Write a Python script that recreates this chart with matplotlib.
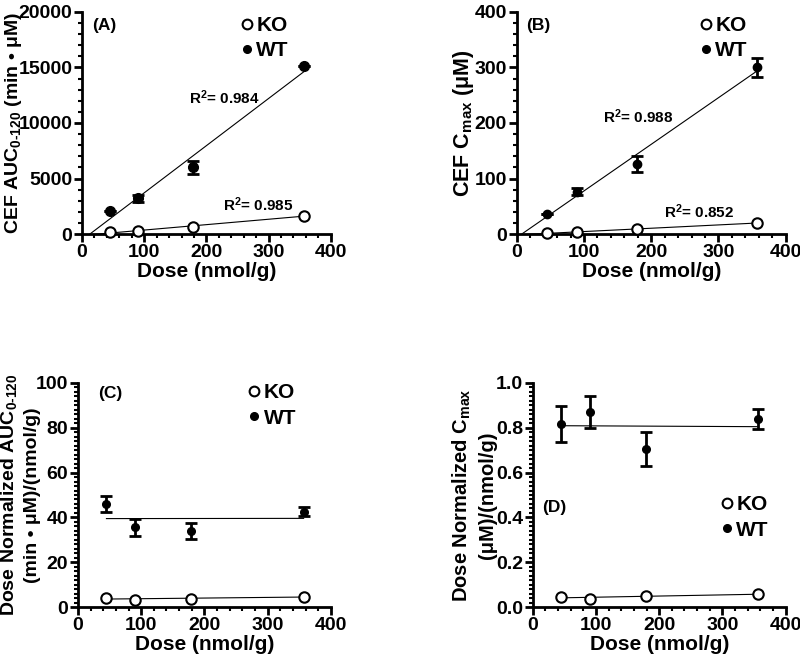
import numpy as np
import matplotlib
matplotlib.use("Agg")
import matplotlib.pyplot as plt
from matplotlib.ticker import MultipleLocator, FormatStrFormatter

plt.rcParams['font.family'] = ['Liberation Sans', 'DejaVu Sans']
plt.rcParams['font.weight'] = 'bold'
plt.rcParams['mathtext.fontset'] = 'custom'
plt.rcParams['mathtext.rm'] = 'Liberation Sans'
plt.rcParams['mathtext.bf'] = 'Liberation Sans:bold'
plt.rcParams['mathtext.default'] = 'rm'

# doses (nmol/g)
dose = [45, 90, 179, 357]

# (A) AUC 0-120 (min*uM)
auc_wt = [2050, 3200, 6000, 15100]
auc_wt_err = [0, 300, 600, 0]
auc_ko = [150, 300, 650, 1650]

# (B) Cmax (uM)
cmax_wt = [36, 76, 126, 300]
cmax_wt_err = [0, 6, 14, 17]
cmax_ko = [2, 3, 9, 20]

# (C) dose normalized AUC
nauc_wt = [46, 35.5, 34, 42.5]
nauc_wt_err = [3.5, 4, 3.5, 2]
nauc_ko = [4, 3.3, 3.7, 4.6]

# (D) dose normalized Cmax
ncmax_wt = [0.815, 0.87, 0.705, 0.84]
ncmax_wt_err = [0.08, 0.07, 0.075, 0.045]
ncmax_ko = [0.045, 0.037, 0.05, 0.057]

fig = plt.figure(figsize=(8, 6.57), dpi=100)
axA = fig.add_axes([0.1025, 0.6438, 0.311, 0.338])
axB = fig.add_axes([0.646, 0.6438, 0.336, 0.338])
axC = fig.add_axes([0.0975, 0.0761, 0.316, 0.341])
axD = fig.add_axes([0.666, 0.0761, 0.316, 0.341])


def style(ax, ymax, ymajor, yminor):
    ax.set_xlim(0, 400)
    ax.set_ylim(0, ymax)
    for s in ['top', 'right']:
        ax.spines[s].set_visible(False)
    for s in ['left', 'bottom']:
        ax.spines[s].set_linewidth(2)
    ax.xaxis.set_major_locator(MultipleLocator(100))
    ax.xaxis.set_minor_locator(MultipleLocator(20))
    ax.yaxis.set_major_locator(MultipleLocator(ymajor))
    ax.yaxis.set_minor_locator(MultipleLocator(yminor))
    ax.tick_params(which='major', length=6, width=2, labelsize=14, pad=1)
    ax.tick_params(which='minor', length=3, width=1.5)
    for lab in ax.get_xticklabels() + ax.get_yticklabels():
        lab.set_fontweight('bold')
    ax.set_xlabel('Dose (nmol/g)', fontsize=15, fontweight='bold', labelpad=1)


def fit_line(ax, x, y, x0):
    m, b = np.polyfit(x, y, 1)
    xs = np.array([x0, max(x)])
    ax.plot(xs, m * xs + b, color='black', lw=0.8, zorder=1)


def points(ax, wt, wt_err, ko, ms_wt, ms_ko):
    ax.errorbar(dose, wt, yerr=wt_err, fmt='none', ecolor='black',
                capsize=4, elinewidth=2, capthick=2, zorder=2, clip_on=False)
    ax.plot(dose, ko, 'o', mfc='white', mec='black', mew=1.5, ms=ms_ko,
            label='KO', zorder=3, clip_on=False)
    ax.plot(dose, wt, 'o', color='black', ms=ms_wt, label='WT', zorder=3, clip_on=False)


def legend(ax, x, y):
    h, l = ax.get_legend_handles_labels()
    leg = ax.legend(h, l, loc='upper left', bbox_to_anchor=(x, y), frameon=False,
                    handlelength=0.6, handletextpad=0.15, labelspacing=0.3,
                    borderaxespad=0, prop={'weight': 'bold', 'size': 15})
    leg.legend_handles[0].set_markersize(7)
    leg.legend_handles[1].set_markersize(5.5)


# (A)
style(axA, 20000, 5000, 1000)
fit_line(axA, dose, auc_wt, 0)
fit_line(axA, dose, auc_ko, 0)
points(axA, auc_wt, auc_wt_err, auc_ko, 7, 7.5)
axA.set_ylabel('CEF AUC$_{0\u2010120}$ (min \u2022 \u03bcM)', fontsize=14, fontweight='bold')
axA.yaxis.set_label_coords(-0.235, 0.5)
axA.text(0.04, 0.94, '(A)', transform=axA.transAxes, fontsize=12.5, fontweight='bold', va='center')
axA.text(172, 12250, 'R$^2$= 0.984', fontsize=11, fontweight='bold', va='center')
axA.text(226, 2600, 'R$^2$= 0.985', fontsize=11, fontweight='bold', va='center')
legend(axA, 0.605, 1.02)

# (B)
style(axB, 400, 100, 20)
fit_line(axB, dose, cmax_wt, 0)
fit_line(axB, dose, cmax_ko, 0)
points(axB, cmax_wt, cmax_wt_err, cmax_ko, 6, 7.5)
axB.set_ylabel('CEF C$_{\\mathrm{max}}$ (\u03bcM)', fontsize=15.5, fontweight='bold')
axB.yaxis.set_label_coords(-0.15, 0.5)
axB.text(0.033, 0.94, '(B)', transform=axB.transAxes, fontsize=12.5, fontweight='bold', va='center')
axB.text(129, 211, 'R$^2$= 0.988', fontsize=11, fontweight='bold', va='center')
axB.text(219, 41, 'R$^2$= 0.852', fontsize=11, fontweight='bold', va='center')
legend(axB, 0.65, 1.02)

# (C)
style(axC, 100, 20, 2)
fit_line(axC, dose, nauc_wt, min(dose))
fit_line(axC, dose, nauc_ko, min(dose))
points(axC, nauc_wt, nauc_wt_err, nauc_ko, 5.5, 7.5)
axC.set_ylabel('Dose Normalized AUC$_{0\u2010120}$\n(min \u2022 \u03bcM)/(nmol/g)', fontsize=14,
               fontweight='bold', linespacing=1.35)
axC.yaxis.set_label_coords(-0.147, 0.5)
axC.text(0.08, 0.955, '(C)', transform=axC.transAxes, fontsize=12.5, fontweight='bold', va='center')
legend(axC, 0.64, 1.035)

# (D)
style(axD, 1.0, 0.2, 0.02)
axD.yaxis.set_major_formatter(FormatStrFormatter('%.1f'))
fit_line(axD, dose, ncmax_wt, min(dose))
fit_line(axD, dose, ncmax_ko, min(dose))
points(axD, ncmax_wt, ncmax_wt_err, ncmax_ko, 5.5, 7.5)
axD.set_ylabel('Dose Normalized C$_{\\mathrm{max}}$\n(\u03bcM)/(nmol/g)', fontsize=14.5,
               fontweight='bold', linespacing=1.35)
axD.yaxis.set_label_coords(-0.14, 0.5)
axD.text(0.035, 0.446, '(D)', transform=axD.transAxes, fontsize=12.5, fontweight='bold', va='center')
legend(axD, 0.71, 0.535)

fig.savefig('out.png', dpi=100)
